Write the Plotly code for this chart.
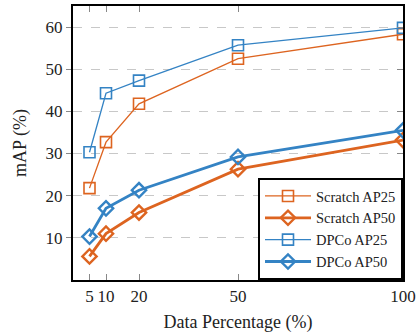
import plotly.graph_objects as go

pct = [5, 10, 20, 50, 100]
scratch_ap25 = [21.8, 32.7, 41.8, 52.5, 58.3]
scratch_ap50 = [5.6, 11.0, 16.0, 26.3, 33.2]
dpco_ap25 = [30.3, 44.3, 47.3, 55.7, 59.8]
dpco_ap50 = [10.3, 17.0, 21.3, 29.2, 35.5]

x_ticks = [5, 10, 20, 50, 100]
y_ticks = [10, 20, 30, 40, 50, 60]

ORANGE = "#DD6420"
BLUE = "#3483C4"
FONT = "Liberation Serif"

fig = go.Figure()
fig.add_trace(go.Scatter(x=pct, y=scratch_ap25, name="Scratch AP25", mode="lines+markers",
                         line=dict(color=ORANGE, width=1.3),
                         marker=dict(symbol="square-open", size=11, line=dict(width=1.6, color=ORANGE))))
fig.add_trace(go.Scatter(x=pct, y=scratch_ap50, name="Scratch AP50", mode="lines+markers",
                         line=dict(color=ORANGE, width=2.8),
                         marker=dict(symbol="diamond-open", size=11, line=dict(width=2.4, color=ORANGE))))
fig.add_trace(go.Scatter(x=pct, y=dpco_ap25, name="DPCo AP25", mode="lines+markers",
                         line=dict(color=BLUE, width=1.3),
                         marker=dict(symbol="square-open", size=11, line=dict(width=1.6, color=BLUE))))
fig.add_trace(go.Scatter(x=pct, y=dpco_ap50, name="DPCo AP50", mode="lines+markers",
                         line=dict(color=BLUE, width=2.8),
                         marker=dict(symbol="diamond-open", size=11, line=dict(width=2.4, color=BLUE))))
# invisible trace to carry right-side inward ticks
fig.add_trace(go.Scatter(x=[], y=[], yaxis="y2", showlegend=False, hoverinfo="skip"))

fig.update_layout(
    width=420, height=333,
    margin=dict(l=73, r=13, t=4, b=52),
    plot_bgcolor="white", paper_bgcolor="white",
    font=dict(family=FONT, size=17, color="#222"),
    xaxis=dict(range=[0, 100], tickvals=x_ticks, ticktext=[str(v) for v in x_ticks],
               ticks="inside", ticklen=6, tickcolor="#888", tickwidth=1,
               showline=True, linecolor="black", linewidth=2, mirror="ticks",
               showgrid=False, zeroline=False, ticklabeloverflow="allow",
               tickfont=dict(family=FONT, size=17),
               title=dict(text="Data Percentage (%)", font=dict(family=FONT, size=18), standoff=10)),
    yaxis=dict(range=[0, 65], tickvals=y_ticks, ticks="outside", ticklen=5, tickcolor="#888", tickwidth=1,
               showline=True, linecolor="black", linewidth=2, mirror=True,
               tickfont=dict(family=FONT, size=17),
               showgrid=True, gridcolor="#c8c8c8", griddash="dash", gridwidth=1, zeroline=False,
               title=dict(text="mAP (%)", font=dict(family=FONT, size=18), standoff=14)),
    yaxis2=dict(range=[0, 65], tickvals=y_ticks, overlaying="y", side="right", ticks="inside",
                ticklen=6, tickcolor="#888", tickwidth=1, showticklabels=False, showgrid=False,
                zeroline=False, showline=False),
    legend=dict(x=1, y=0, xanchor="right", yanchor="bottom", bgcolor="white",
                bordercolor="black", borderwidth=2, font=dict(family=FONT, size=14.5),
                tracegroupgap=0, itemwidth=46),
)

fig.write_html("out.html", config={"displayModeBar": False},
               post_script="document.body.style.margin='0';")
